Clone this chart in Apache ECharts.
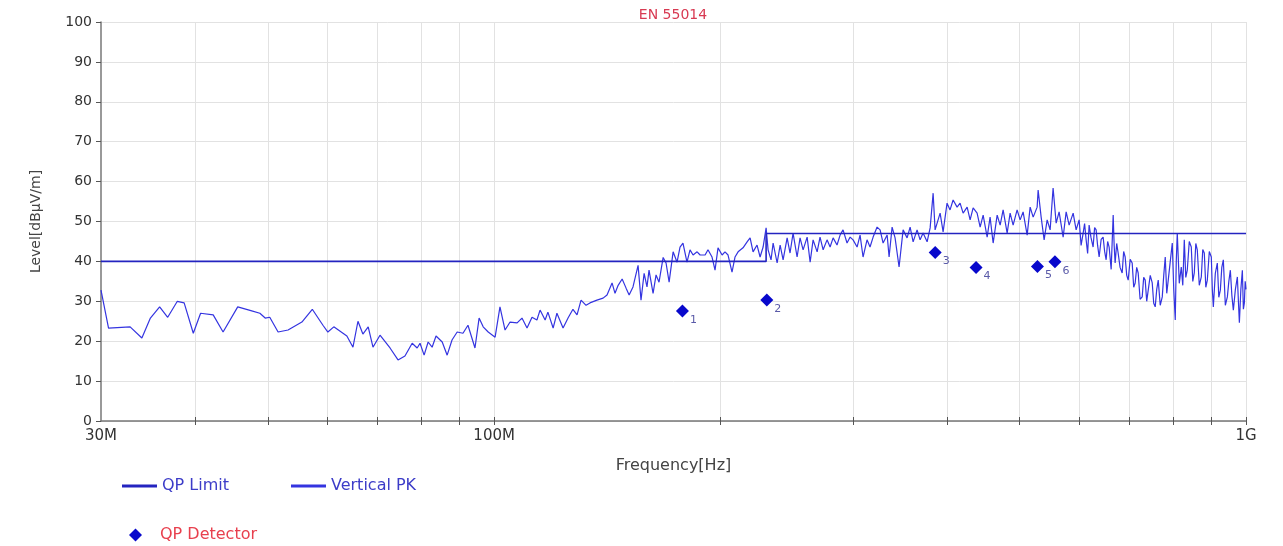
<!DOCTYPE html>
<html>
<head>
<meta charset="utf-8">
<script src="https://cdn.jsdelivr.net/npm/echarts@6/dist/echarts.min.js"></script>
<style>
html,body{margin:0;padding:0;background:#fff;}
#c{width:1283px;height:546px;}
</style>
</head>
<body>
<div id="c"></div>
<script>
// Frequencies in MHz, levels in dBµV/m
const peakFreq = [
30,30.7,32.8,34.0,34.9,35.9,36.8,37.9,38.7,39.8,40.7,42.3,43.6,45.6,47.6,48.8,49.6,50.3,51.6,53.2,55.5,57.3,59.2,60.1,61.2,63.7,64.9,65.9,66.9,68.0,69.0,
70.5,72.7,74.5,76.1,77.8,79.0,79.7,80.7,81.7,82.7,83.7,85.3,86.6,87.9,89.3,90.9,92.3,94.3,95.5,96.7,98.2,100.3,101.8,103.4,105.0,107.3,108.9,110.6,112.3,114.0,115.1,116.9,117.9,119.8,121.2,123.5,125.4,127.3,128.9,130.5,132.5,134.1,137.0,139.6,141.3,143.5,144.8,146.2,148.0,149.8,151.2,153.0,155.4,156.8,158.3,159.7,160.7,162.7,164.2,165.7,167.8,169.3,170.9,173.0,175.1,
176.7,178.3,180.5,182.2,183.9,186.2,187.9,190.8,192.5,194.9,196.7,198.5,201.0,202.8,204.7,207.2,209.1,211.1,214.3,217.0,219.0,221.0,223.7,225.8,227.9,230.0,231.4,233.5,235.0,237.9,240.1,242.3,245.3,247.5,249.8,252.9,255.2,257.6,260.8,263.2,265.6,268.9,271.3,273.9,277.2,279.8,282.4,285.8,288.5,291.1,294.7,297.5,300.2,303.9,306.7,309.5,313.3,316.2,319.2,323.1,326.1,329.1,333.2,335.2,338.3,341.4,345.6,349.9,354.2,357.5,360.8,365.2,368.6,372.0,376.6,380.1,383.6,385.9,
388.3,391.9,395.5,400.3,404.0,407.8,412.8,416.6,420.5,425.7,429.6,433.6,438.9,443.0,447.1,452.6,456.7,461.0,466.7,471.0,475.3,481.2,485.6,490.1,496.1,500.7,505.3,511.6,516.3,521.1,527.5,529.1,534.0,538.9,543.9,548.9,553.9,559.1,564.2,571.2,576.5,581.8,589.0,594.4,
599.9,603.5,607.3,610,612.9,615.7,618.5,622,626.1,629,631.9,634.8,637.8,641.7,645.6,648.6,651.6,654.6,657.6,661.7,665.8,667.8,669.8,673,676.0,680,684.4,687.5,690.7,694,697.1,701.4,705.7,709,712.2,715.5,718.8,723,727.7,731,734.4,737.8,741.2,745.8,750.4,753.8,757.3,760.8,764.3,769,773.8,777.3,780.9,784.5,788.1,793,797.9,801.5,805.2,807.7,810.2,815.2,820.2,824,827.8,831.6,835.4,840.5,845.7,849.6,853.5,857.5,861.4,866.7,872.1,876,880.1,884.2,888.3,893.7,899.2,902,904.8,910.3,915.9,920.1,924.4,928.6,932.9,938.7,944.5,948.8,953.2,957.6,962.0,968,973.9,977,979.9,984.4,988.9,992,995.0,997.5,1000
];
const peakLevel = [
32.8,23.3,23.6,20.8,25.8,28.6,26,30,29.6,22,27,26.6,22.3,28.6,27.6,27,25.8,26,22.3,22.8,24.8,28,24,22.3,23.6,21.3,18.5,25,21.8,23.6,18.5,
21.5,18.3,15.3,16.3,19.5,18.3,19.5,16.5,19.8,18.5,21.3,19.8,16.5,20.3,22.3,22,24,18.3,25.8,23.6,22.3,21,28.6,22.8,24.8,24.6,25.8,23.3,26,25.3,27.8,25.3,27.3,23.3,27,23.3,25.8,28,26.6,30.3,29,29.6,30.3,30.8,31.6,34.6,32,34,35.6,33.3,31.6,33.6,39,30.3,37,33.6,37.8,32,36.6,34.8,41,39.6,34.8,42.4,39.8,
43.6,44.6,39.8,42.9,41.6,42.4,41.6,41.6,42.9,41.1,37.8,43.4,41.6,42.4,41.6,37.3,41.1,42.4,43.4,44.9,45.9,42.4,44.1,41.1,43.6,48.4,42.9,40.4,44.6,39.6,44.1,40.4,45.9,42.1,47.1,41.1,45.9,42.9,46.1,39.8,45.4,42.4,46.1,42.9,45.4,43.6,45.9,44.1,46.6,47.9,44.6,46.1,45.4,43.6,46.6,41.1,45.4,43.6,46.1,48.6,47.9,44.6,46.6,41.1,48.6,45.9,38.6,47.9,45.9,48.6,44.9,47.9,45.4,47.1,44.9,48.4,57.1,47.9,
49.6,52.1,47.4,54.6,52.9,55.4,53.6,54.6,52.1,53.6,50.4,53.4,52.1,48.6,51.6,46.1,51.1,44.6,51.6,49.1,52.9,47.1,52.1,49.1,52.9,50.4,52.4,46.6,53.6,51.1,53.6,57.9,51.1,45.4,50.4,47.9,58.4,49.6,52.4,46.1,52.4,49.1,52.1,47.9,
50.4,44.0,47.1,49.5,45.4,42.0,49.1,46.0,43.6,48.5,47.9,44.0,41.1,45.5,46.1,42.5,40.4,45.0,43.6,38.0,51.6,44.0,39.6,44.5,42.1,38.5,37.1,42.5,41.1,36.5,35.3,40.5,39.6,33.5,34.6,38.5,37.1,30.5,31.1,36.0,35.3,30.0,29.6,36.5,34.6,29.5,28.6,33.0,35.3,29.0,31.1,36.5,41.1,32.0,35.3,40.0,44.6,33.0,25.3,40.0,47.1,34.5,38.6,34.0,45.4,36.0,37.8,45.0,43.6,35.0,37.1,44.5,42.9,34.0,36.1,43.0,42.1,33.5,35.3,42.5,41.1,33.0,28.6,37.0,39.6,31.0,32.8,38.5,40.4,29.0,31.1,35.0,37.8,31.5,27.8,33.0,36.1,30.0,24.6,33.0,37.8,28.0,29.6,35.0,33
];
const limitFreq = [30, 230, 230, 1000];
const limitLevel = [40, 40, 47, 47];
const qpFreq = [178, 230.5, 386, 437.5, 528, 557];
const qpLevel = [27.6, 30.3, 42.2, 38.5, 38.7, 39.9];
const qpLabels = ['1', '2', '3', '4', '5', '6'];
const xGridFreq = [40, 50, 60, 70, 80, 90, 100, 200, 300, 400, 500, 600, 700, 800, 900, 1000];
const xLabelFreq = [30, 100, 1000];
const xLabelText = ['30M', '100M', '1G'];

const FONT = 'DejaVu Sans';
const chart = echarts.init(document.getElementById('c'));

const zip = (a, b) => a.map((v, i) => [v, b[i]]);

chart.setOption({
  backgroundColor: '#fff',
  animation: false,
  title: {
    text: 'EN 55014',
    left: 668, top: 3, textAlign: 'center',
    textStyle: { color: '#d83a52', fontSize: 14, fontWeight: 'normal', fontFamily: FONT }
  },
  grid: { left: 101, right: 37, top: 22, bottom: 125, containLabel: false },
  legend: [
    {
      left: 117, top: 473, itemGap: 62, itemWidth: 35, itemHeight: 3, icon: 'rect',
      data: ['QP Limit', 'Vertical PK'],
      textStyle: { color: '#3c3cc8', fontSize: 16, fontFamily: FONT }
    },
    {
      left: 124, top: 522, itemWidth: 13, itemHeight: 13, icon: 'diamond',
      data: ['QP Detector'],
      itemStyle: { opacity: 1 },
      textStyle: { color: '#e8404e', fontSize: 16, fontFamily: FONT, padding: [0, 0, 0, 13] }
    }
  ],
  xAxis: [
    {
      type: 'log', logBase: 10, min: 30, max: 1000,
      name: 'Frequency[Hz]', nameLocation: 'middle', nameGap: 37,
      nameTextStyle: { color: '#444', fontSize: 16, fontFamily: FONT },
      axisLine: { lineStyle: { color: '#777', width: 1.5 } },
      axisTick: { show: true, length: 4, customValues: xGridFreq, lineStyle: { color: '#555', width: 1 } },
      axisLabel: {
        customValues: xLabelFreq, margin: 8, color: '#333', fontSize: 15, fontFamily: FONT,
        formatter: v => { const i = xLabelFreq.findIndex(f => Math.abs(f - v) < 1e-6); return i >= 0 ? xLabelText[i] : ''; }
      },
      splitLine: { show: true, lineStyle: { color: '#e2e2e2', width: 1 } },
      minorTick: { show: false }
    },
    {
      type: 'log', logBase: 10, min: 30, max: 1000, position: 'bottom',
      axisLine: { show: false },
      axisTick: { show: true, inside: true, length: 4, customValues: xGridFreq, lineStyle: { color: '#555', width: 1 } },
      axisLabel: { show: false },
      splitLine: { show: false }
    }
  ],
  yAxis: {
    type: 'value', min: 0, max: 100, interval: 10,
    name: 'Level[dBµV/m]', nameLocation: 'middle', nameGap: 58,
    nameTextStyle: { color: '#444', fontSize: 14, fontFamily: FONT },
    axisLine: { show: true, lineStyle: { color: '#777', width: 1.5 } },
    axisTick: { show: true, length: 5, lineStyle: { color: '#555' } },
    axisLabel: { color: '#333', fontSize: 14, fontFamily: FONT, margin: 9 },
    splitLine: { show: true, lineStyle: { color: '#e2e2e2', width: 1 } }
  },
  series: [
    {
      name: 'Vertical PK', type: 'line', xAxisIndex: 0,
      data: zip(peakFreq, peakLevel),
      showSymbol: false, symbol: 'none',
      lineStyle: { color: '#3434e0', width: 1.2 },
      itemStyle: { color: '#3434e0' }, z: 2
    },
    {
      name: 'QP Limit', type: 'line', xAxisIndex: 0,
      data: zip(limitFreq, limitLevel),
      showSymbol: false, symbol: 'none',
      lineStyle: { color: '#2424c0', width: 1.6 },
      itemStyle: { color: '#2424c0' }, z: 3
    },
    {
      name: 'QP Detector', type: 'scatter', xAxisIndex: 0,
      data: qpFreq.map((f, i) => ({ value: [f, qpLevel[i]], label: { formatter: qpLabels[i] } })),
      symbol: 'diamond', symbolSize: 13,
      itemStyle: { color: '#0808cc', opacity: 1 },
      label: { show: true, position: 'inside', offset: [11, 9], color: '#5a5aa8', fontSize: 11, fontFamily: FONT },
      z: 4
    }
  ]
});
</script>
</body>
</html>
